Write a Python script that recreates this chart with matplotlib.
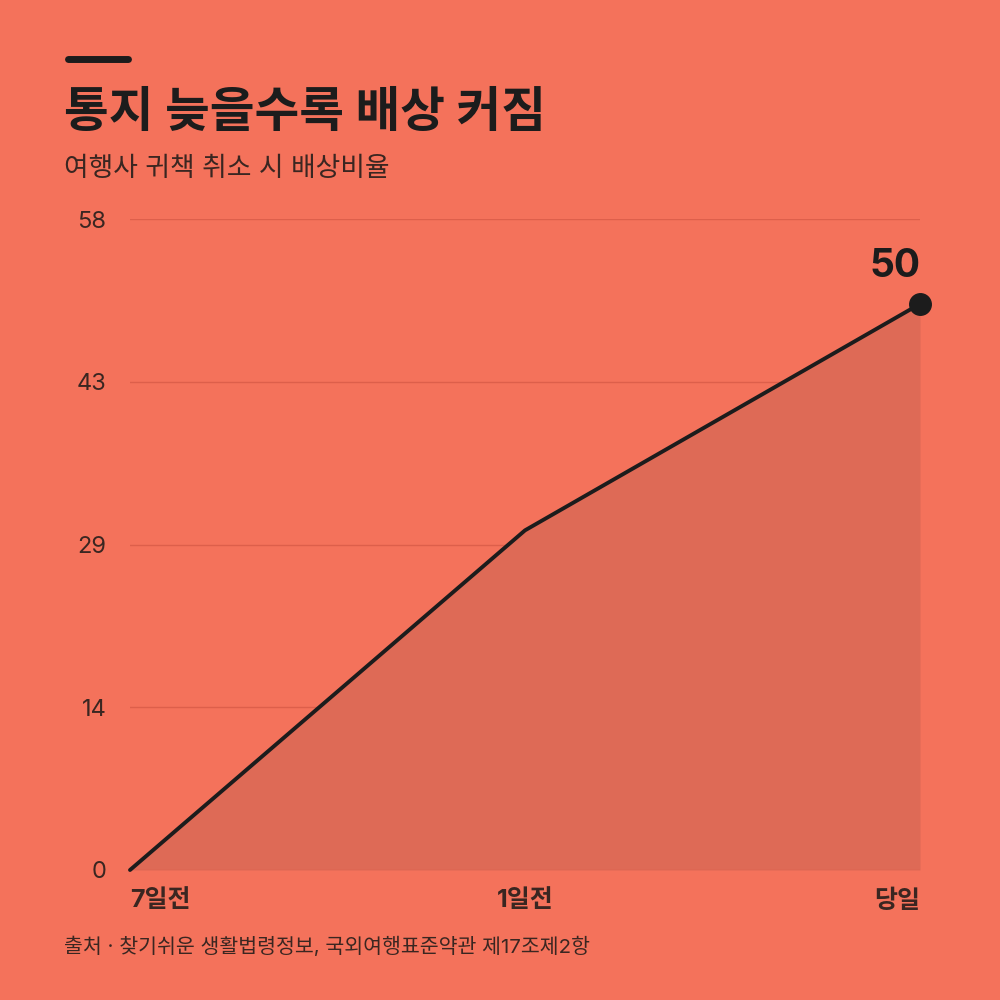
import matplotlib
matplotlib.use("Agg")
import matplotlib.pyplot as plt
from matplotlib.lines import Line2D

plt.rcParams['font.family'] = ['Inter', 'Noto Sans CJK KR', 'DejaVu Sans']

categories = ["7일전", "1일전", "당일"]
values = [0, 30, 50]
ymax = 57.5
yticks = [0, 14.375, 28.75, 43.125, 57.5]
ytick_labels = ["0", "14", "29", "43", "58"]
title = "통지 늦을수록 배상 커짐"
subtitle = "여행사 귀책 취소 시 배상비율"
source = "출처 · 찾기쉬운 생활법령정보, 국외여행표준약관 제17조제2항"

BG = "#F4725B"
DARK = "#1C1C1C"
FILL = "#DE6A56"
GRID = "#DD5F4B"
TICK = "#3A2621"

fig = plt.figure(figsize=(10, 10), dpi=100, facecolor=BG)
ax = fig.add_axes([0.13, 0.13, 0.79, 0.651])
ax.set_facecolor(BG)

x = list(range(len(categories)))
ax.fill_between(x, values, 0, color=FILL, lw=0, zorder=1)
ax.plot(x, values, color=DARK, lw=2.8, zorder=3, solid_capstyle='round', clip_on=False)
ax.plot([x[-1]], [values[-1]], 'o', color=DARK, ms=15.5, zorder=4, clip_on=False)
ax.annotate(str(values[-1]), (x[-1], values[-1]), xytext=(0, 13.5), textcoords='offset points',
            ha='right', va='bottom', fontsize=28, fontweight='bold', color=DARK,
            annotation_clip=False)

ax.set_xlim(0, len(categories) - 1)
ax.set_ylim(0, ymax)
ax.set_yticks(yticks)
ax.set_yticklabels(ytick_labels, fontsize=17, color=TICK)
for yv in yticks[1:]:
    ax.axhline(yv, color=GRID, lw=1, zorder=0)
ax.axhline(0, color=GRID, lw=1, zorder=2)

ax.set_xticks(x)
ax.set_xticklabels(categories, fontsize=18, fontweight='bold', color=TICK)
labels = ax.get_xticklabels()
labels[0].set_ha('left')
labels[-1].set_ha('right')
ax.tick_params(axis='both', length=0)
ax.tick_params(axis='y', pad=17)
ax.tick_params(axis='x', pad=14)
for s in ax.spines.values():
    s.set_visible(False)

fig.add_artist(Line2D([0.068, 0.128], [0.941, 0.941], color=DARK, lw=5,
                      solid_capstyle='round', transform=fig.transFigure))
fig.text(0.064, 0.886, title, fontsize=35, fontweight='bold', color=DARK, ha='left', va='center')
fig.text(0.064, 0.831, subtitle, fontsize=19.3, color=TICK, ha='left', va='center')
fig.text(0.064, 0.053, source, fontsize=14.8, color=TICK, ha='left', va='center')

fig.savefig("out.png", dpi=100, facecolor=BG)
